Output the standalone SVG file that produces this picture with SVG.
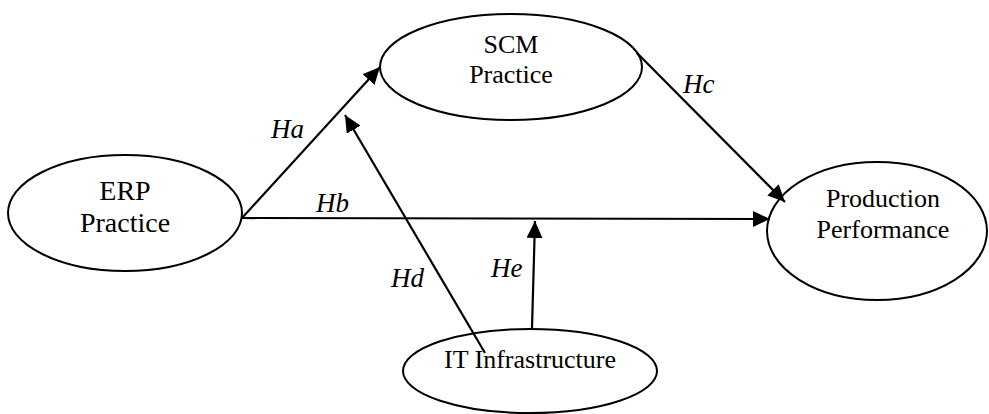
<svg xmlns="http://www.w3.org/2000/svg" width="989" height="414" viewBox="0 0 989 414">
<style>
.node{fill:#fff;stroke:#000;stroke-width:2}
.t{font-family:"Liberation Serif","Times New Roman",serif;font-size:26px;fill:#000;text-anchor:middle}
.lbl{font-family:"Liberation Serif","Times New Roman",serif;font-size:27px;font-style:italic;fill:#000}
.c{stroke:#000;stroke-width:2.2;fill:none;marker-end:url(#ah)}
</style>
<defs>
<marker id="ah" markerUnits="userSpaceOnUse" markerWidth="18" markerHeight="16" refX="17" refY="8" orient="auto">
<path d="M0,0 L17,8 L0,16 z" fill="#000"/>
</marker>
</defs>
<rect width="989" height="414" fill="#fff"/>
<g id="erp">
<ellipse class="node" cx="125" cy="213" rx="117" ry="58"/>
<text class="t" x="125" y="200" style="font-size:28px">ERP</text>
<text class="t" x="125" y="232" style="font-size:28px">Practice</text>
</g>
<g id="scm">
<ellipse class="node" cx="511" cy="67" rx="131" ry="53"/>
<text class="t" x="511" y="53">SCM</text>
<text class="t" x="511" y="83">Practice</text>
</g>
<g id="prod">
<ellipse class="node" cx="877" cy="231" rx="110" ry="69"/>
<text class="t" x="883" y="207">Production</text>
<text class="t" x="883" y="238">Performance</text>
</g>
<g id="it">
<ellipse class="node" cx="530" cy="371" rx="127" ry="42"/>
<text class="t" x="530" y="368">IT Infrastructure</text>
</g>
<g id="connectors">
<line class="c" x1="242" y1="218" x2="380" y2="67"/>
<line class="c" x1="242" y1="218" x2="770" y2="219"/>
<line class="c" x1="637" y1="53" x2="785" y2="202"/>
<line class="c" x1="485" y1="353" x2="345" y2="115"/>
<line class="c" x1="532" y1="328" x2="535" y2="221"/>
<text class="lbl" x="271" y="138">Ha</text>
<text class="lbl" x="316" y="212">Hb</text>
<text class="lbl" x="683" y="93">Hc</text>
<text class="lbl" x="391" y="287">Hd</text>
<text class="lbl" x="491" y="277">He</text>
</g>
</svg>
